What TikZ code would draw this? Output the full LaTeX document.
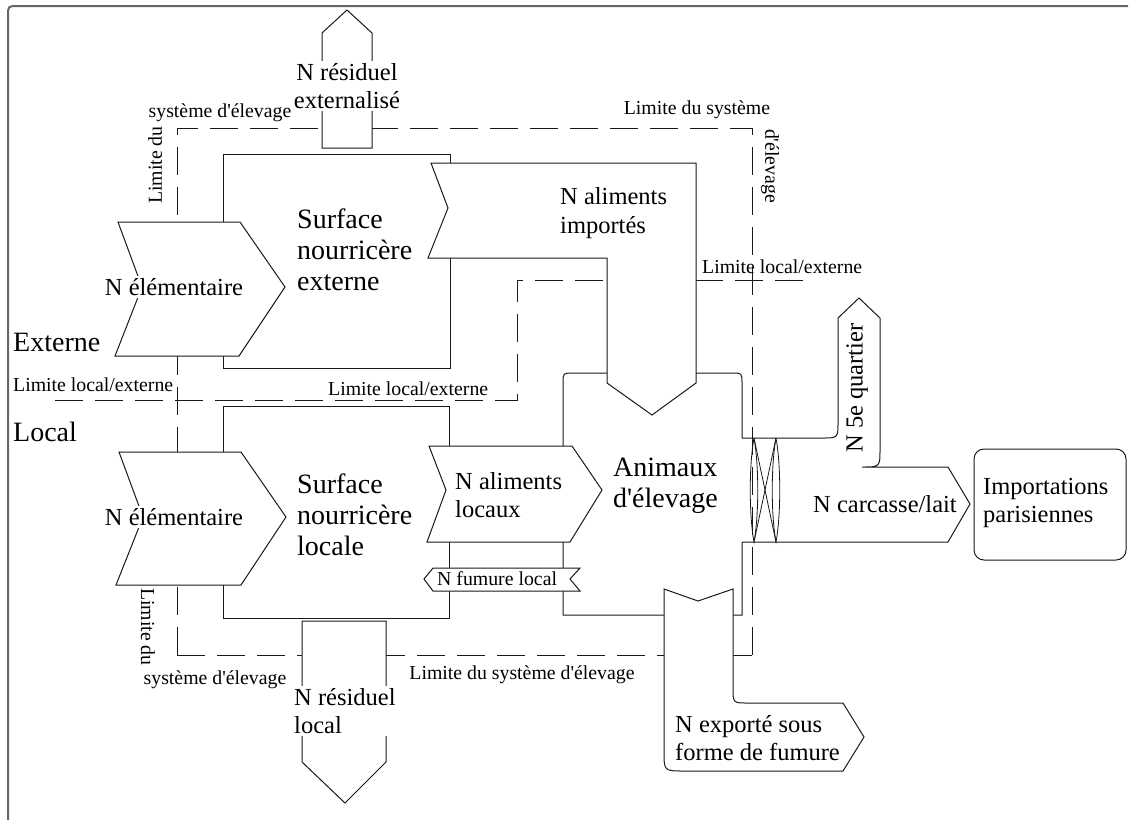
\documentclass[tikz,border=0pt]{standalone}
\usepackage{fontspec}
\setmainfont{Liberation Serif}
\begin{document}
\begin{tikzpicture}[x=1pt, y=-1pt,
    trait/.style={draw=black!90, line width=1pt},
    forme/.style={trait, fill=white},
    limite/.style={draw=black!90, line width=1pt, dash pattern=on 28pt off 12pt},
    grand/.style={font=\fontsize{28}{31}\selectfont, align=left, inner sep=0pt, anchor=west},
    moyen/.style={font=\fontsize{24.5}{28.5}\selectfont, align=left, inner sep=0pt, anchor=west},
    petit/.style={font=\fontsize{19.8}{22}\selectfont, inner sep=0pt},
    masque/.style={fill=white, inner sep=2pt},
  ]
  \useasboundingbox (0,0) rectangle (1130,823);
  % cadre
  \draw[black!60, line width=2pt] (8,820) -- (8,16) .. controls (8,6) .. (18,6) -- (1128,6);

  % --- Limites ---
  \draw[limite] (177,655) -- (177,128) -- (752,128);
  \draw[limite] (177,655) -- (732,655);
  \draw[limite] (55,400) -- (517,400) -- (517,280) -- (813,280);

  % --- Surfaces nourricières ---
  \draw[trait] (223,154) rectangle (450,368);
  \draw[trait] (223,406) rectangle (449,618);

  % --- Animaux d'élevage ---
  \draw[trait] (607,373) -- (573,373) .. controls (563,373) .. (563,383)
    -- (563,615) -- (742,615) -- (742,542);
  \draw[trait] (742,438) -- (742,383) .. controls (742,373) .. (732,373) -- (696,373);
  % sortie : 5e quartier et carcasse/lait
  \draw[trait] (742,438) -- (822,438) .. controls (838,438) .. (838,422)
    -- (838,318) -- (859,298) -- (880,318) -- (880,449)
    .. controls (880,467) .. (862,467) -- (948,467) -- (970,504)
    -- (948,542) -- (742,542);
  % torsion
  \draw[trait, line width=.8pt] (754,438) .. controls (749,465) and (749,515) .. (754,542)
    .. controls (759,515) and (759,465) .. (754,438);
  \draw[trait, line width=.8pt] (776,438) .. controls (771,465) and (771,515) .. (776,542)
    .. controls (781,515) and (781,465) .. (776,438);
  \draw[trait, line width=.8pt] (754,438) -- (776,542);
  \draw[trait, line width=.8pt] (776,438) -- (754,542);
  \draw[limite] (752,655) -- (752,128);
  \draw[trait] (733,655) -- (752,655);

  % --- Flux ---
  \draw[forme] (322,148) -- (322,33) -- (347,10) -- (372,33) -- (372,148) -- cycle;
  \draw[forme] (118,222) -- (240,222) -- (285,287) -- (239,356) -- (115,356) -- (142,287) -- cycle;
  \draw[forme] (119,452) -- (241,452) -- (286,517) -- (241,585) -- (116,585) -- (143,517) -- cycle;
  \draw[forme] (431,163) -- (696,163) -- (696,383) -- (652,415) -- (607,383)
    -- (607,258) -- (428,258) -- (448,208) -- cycle;
  \draw[forme] (429,446) -- (572,446) -- (602,490) -- (570,542) -- (427,542) -- (446,490) -- cycle;
  \draw[forme] (424,579) -- (433,568) -- (580,568) -- (570,579) -- (580,591) -- (433,591) -- cycle;
  \draw[forme] (302,621) -- (386,621) -- (386,762) -- (345,803) -- (302,762) -- cycle;
  \draw[forme] (664,589) -- (698,601) -- (733,589) -- (733,688) .. controls (733,703) .. (748,703)
    -- (843,703) -- (864,737) -- (843,771) -- (684,771) .. controls (664,771) .. (664,751) -- cycle;
  \draw[trait, rounded corners=10pt] (974,449) rectangle (1126,560);

  % --- Textes ---
  \node[moyen, masque, anchor=center, align=center] (tResExt) at (347,86) {N résiduel\\externalisé};
  \node[petit] (tSysHG) at (220,113) {système d\textquotesingle élevage};
  \node[petit, rotate=90] (tLimHG) at (155,165) {Limite du};
  \node[petit] (tLimHD) at (697,110) {Limite du système};
  \node[petit, rotate=-90] (tElevHD) at (770,166) {d\textquotesingle élevage};
  \node[grand] (tSurfExt) at (297,250) {Surface\\nourricère\\externe};
  \node[moyen, masque, anchor=center] (tElemExt) at (174,287) {N élémentaire};
  \node[moyen] (tImport) at (560,213) {N aliments\\importés};
  \node[petit, anchor=west] (tLimLEd) at (702,267) {Limite local/externe};
  \node[grand] (tExterne) at (13,342) {Externe};
  \node[petit, anchor=west] (tLimLEg) at (13,385) {Limite local/externe};
  \node[grand] (tLocal) at (13,432) {Local};
  \node[petit, anchor=west] (tLimLEm) at (328,389) {Limite local/externe};
  \node[grand] (tSurfLoc) at (297,515) {Surface\\nourricère\\locale};
  \node[moyen, masque, anchor=center] (tElemLoc) at (174,517) {N élémentaire};
  \node[moyen] (tAlimLoc) at (455,495) {N aliments\\locaux};
  \node[grand] (tAnimaux) at (613,486) {Animaux\\d\textquotesingle élevage};
  \node[moyen, rotate=90, anchor=center] (tQuartier) at (857,388) {N 5e quartier};
  \node[moyen] (tCarcasse) at (813,504) {N carcasse/lait};
  \node[moyen] (tParis) at (983,503) {Importations\\parisiennes};
  \node[petit, anchor=west] (tFumure) at (437,579) {N fumure local};
  \node[petit, rotate=-90] (tLimBG) at (148,627) {Limite du};
  \node[petit] (tSysBG) at (215,680) {système d\textquotesingle élevage};
  \node[moyen, masque] (tResLoc) at (292,711) {N résiduel\\local};
  \node[petit] (tLimBas) at (522,675) {Limite du système d\textquotesingle élevage};
  \node[moyen] (tExport) at (675,738) {N exporté sous\\forme de fumure};
\end{tikzpicture}
\end{document}
